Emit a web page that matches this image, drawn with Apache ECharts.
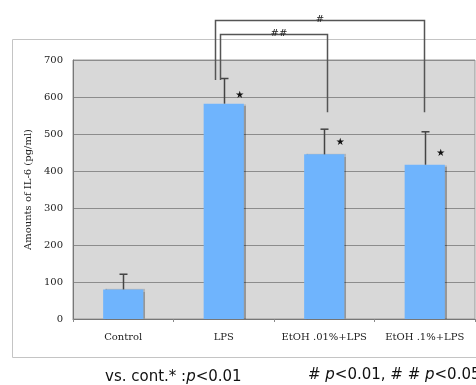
<!DOCTYPE html>
<html>
<head>
<meta charset="utf-8">
<script src="https://cdn.jsdelivr.net/npm/echarts@6/dist/echarts.min.js"></script>
<style>
  html, body { margin: 0; padding: 0; background: #fff; }
  #chart { width: 476px; height: 385px; }
</style>
</head>
<body>
<div id="chart"></div>
<script>
// data
const categories = ["Control", "LPS", "EtOH .01%+LPS", "EtOH .1%+LPS"];
const means = [80, 582, 445, 417];
const errUpper = [121, 650, 513, 506];
const starValues = [null, 605, 478, 447];
const yTicks = { min: 0, max: 700, interval: 100 };
// brackets: [fromIndex, toIndex, topValue, leftLegBottom, rightLegBottom, label]
const brackets = [
  [1, 3, 808, 646, 559, "#"],
  [1, 2, 770, 646, 559, "##"]
];
const footLeft = "vs. cont.* :";
const footRight = "# ";

const chart = echarts.init(document.getElementById("chart"));

const option = {
  animation: false,
  grid: {
    left: 73, right: 1, top: 60, bottom: 66,
    show: true,
    backgroundColor: "#d8d8d8",
    borderColor: "#999",
    borderWidth: 1
  },
  xAxis: {
    type: "category",
    data: categories,
    axisLine: { lineStyle: { color: "#777" } },
    axisTick: { show: true, length: 3, lineStyle: { color: "#888" } },
    axisLabel: { interval: 0, fontFamily: "DejaVu Serif", fontSize: 10, color: "#222", margin: 13 }
  },
  yAxis: {
    type: "value",
    min: yTicks.min, max: yTicks.max, interval: yTicks.interval,
    name: "Amounts of IL-6 (pg/ml)",
    nameLocation: "middle",
    nameGap: 37,
    nameTextStyle: { fontFamily: "DejaVu Serif", fontSize: 10, color: "#222" },
    axisLine: { show: true, lineStyle: { color: "#777" } },
    axisTick: { show: false },
    axisLabel: { fontFamily: "DejaVu Serif", fontSize: 10, color: "#222", margin: 10 },
    splitLine: { lineStyle: { color: "#8c8c8c", width: 1 } }
  },
  graphic: [
    {
      type: "rect",
      shape: { x: 12.5, y: 39.5, width: 470, height: 318 },
      style: { fill: null, stroke: "#c4c4c4", lineWidth: 1 },
      z: -1
    },
    {
      type: "text", left: 105, top: 370,
      style: {
        rich: {
          a: { fontFamily: "DejaVu Sans", fontSize: 15, fill: "#111" },
          p: { fontFamily: "DejaVu Sans", fontSize: 15, fontStyle: "italic", fill: "#111" }
        },
        text: "{a|" + footLeft + "}{p|p}{a|<0.01}"
      }
    },
    {
      type: "text", left: 308, top: 368,
      style: {
        rich: {
          a: { fontFamily: "DejaVu Sans", fontSize: 15, fill: "#111" },
          p: { fontFamily: "DejaVu Sans", fontSize: 15, fontStyle: "italic", fill: "#111" }
        },
        text: "{a|" + footRight + "}{p|p}{a|<0.01, # # }{p|p}{a|<0.05}"
      }
    }
  ],
  series: [
    {
      type: "bar",
      data: means,
      barWidth: "40%",
      itemStyle: {
        color: "#6fb4fd",
        shadowColor: "rgba(0,0,0,0.3)",
        shadowOffsetX: 2,
        shadowOffsetY: 0,
        shadowBlur: 1
      },
      z: 2
    },
    {
      // error bars (upper only)
      type: "custom",
      data: categories.map((c, i) => [i, means[i], errUpper[i]]),
      renderItem: function (params, api) {
        const base = api.coord([api.value(0), api.value(1)]);
        const top = api.coord([api.value(0), api.value(2)]);
        const x = Math.round(base[0]) + 0.5;
        return {
          type: "group",
          children: [
            { type: "line", shape: { x1: x, y1: base[1], x2: x, y2: top[1] },
              style: { stroke: "#444", lineWidth: 1.5 } },
            { type: "line", shape: { x1: x - 4, y1: top[1], x2: x + 4, y2: top[1] },
              style: { stroke: "#444", lineWidth: 1.5 } }
          ]
        };
      },
      z: 3
    },
    {
      // significance stars
      type: "custom",
      data: categories.map((c, i) => [i, starValues[i]]).filter(d => d[1] != null),
      renderItem: function (params, api) {
        const p = api.coord([api.value(0), api.value(1)]);
        return {
          type: "text",
          style: {
            x: p[0] + 16, y: p[1], text: "★",
            fontFamily: "DejaVu Sans", fontSize: 10, fill: "#111",
            align: "center", verticalAlign: "middle"
          }
        };
      },
      z: 4
    },
    {
      // comparison brackets
      type: "custom",
      clip: false,
      data: brackets,
      renderItem: function (params, api) {
        const b = brackets[params.dataIndex];
        const lOff = params.dataIndex === 0 ? -9 : -4;
        const rOff = params.dataIndex === 0 ? -1 : 3;
        const l = api.coord([b[0], b[3]]);
        const r = api.coord([b[1], b[4]]);
        const t = api.coord([b[0], b[2]]);
        const xl = Math.round(l[0] + lOff) + 0.5;
        const xr = Math.round(r[0] + rOff) + 0.5;
        const yt = Math.round(t[1]) + 0.5;
        return {
          type: "group",
          children: [
            { type: "polyline",
              shape: { points: [[xl, l[1]], [xl, yt], [xr, yt], [xr, r[1]]] },
              style: { stroke: "#555", lineWidth: 1.5, fill: null } },
            { type: "text",
              style: { x: (xl + xr) / 2 + (params.dataIndex === 0 ? 0 : 5), y: yt - 1,
                text: b[5], fontFamily: "DejaVu Serif", fontSize: 10, fill: "#222",
                align: "center", verticalAlign: "middle" } }
          ]
        };
      },
      z: 5
    }
  ]
};

chart.setOption(option);
</script>
</body>
</html>
